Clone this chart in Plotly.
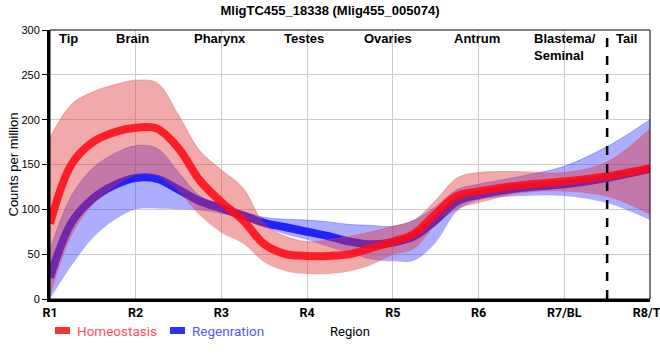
import plotly.graph_objects as go

# ---- data ----
pos = [1, 1.25, 1.5, 1.75, 2, 2.25, 2.5, 2.75, 3, 3.25, 3.5, 3.75, 4, 4.25,
       4.5, 4.75, 5, 5.25, 5.5, 5.75, 6, 6.5, 7, 7.5, 8]

homeo_mean = [84, 150, 175, 186, 191, 190, 168, 132, 108, 88, 61, 50, 48, 48,
              50, 57, 64, 73, 95, 115, 120, 127, 131, 137, 146]
homeo_upper = [180, 217, 231, 239, 244, 241, 205, 165, 144, 124, 84, 70, 64, 66,
               70, 75, 81, 88, 110, 135, 141, 142, 141, 153, 190]
homeo_lower = [2, 70, 105, 125, 138, 137, 120, 93, 74, 62, 41, 31, 28, 28,
               31, 38, 49, 56, 82, 100, 107, 118, 120, 114, 94]

regen_mean = [24, 85, 112, 127, 135, 134, 122, 109, 101, 93, 85, 80, 75, 70,
              64, 61, 63, 70, 88, 109, 116, 124, 128, 135, 145]
regen_upper = [55, 115, 146, 162, 171, 168, 141, 115, 106, 98, 91, 89, 88, 86,
               83, 82, 81, 88, 103, 122, 128, 137, 148, 170, 200]
regen_lower = [0, 37, 68, 88, 100, 101, 100, 99, 95, 90, 80, 72, 66, 58,
               51, 44, 42, 43, 63, 98, 110, 115, 115, 107, 88]

tick_vals = [1, 2, 3, 4, 5, 6, 7, 8]
tick_text = ["R1", "R2", "R3", "R4", "R5", "R6", "R7/BL", "R8/TL"]

region_names = ["Tip", "Brain", "Pharynx", "Testes", "Ovaries", "Antrum",
                "Blastema/<br>Seminal", "Tail"]
region_pos = [1.22, 1.965, 2.98, 3.96, 4.94, 5.98, 7.01, 7.73]

series_names = ["Homeostasis", "Regenration"]
title = "MligTC455_18338 (Mlig455_005074)"

# ---- figure ----
fig = go.Figure()

# regeneration band + line
fig.add_trace(go.Scatter(x=pos, y=regen_lower, mode="lines", line=dict(width=0, shape="spline"),
                         showlegend=False, hoverinfo="skip"))
fig.add_trace(go.Scatter(x=pos, y=regen_upper, mode="lines", line=dict(width=0.8, shape="spline",
                         color="rgba(60,60,255,0.5)"),
                         fill="tonexty", fillcolor="rgba(40,40,255,0.38)",
                         showlegend=False, hoverinfo="skip"))
fig.add_trace(go.Scatter(x=pos, y=regen_mean, mode="lines",
                         line=dict(width=8, shape="spline", color="#2222ff"),
                         name=series_names[1], showlegend=False))

# homeostasis band + line
fig.add_trace(go.Scatter(x=pos, y=homeo_lower, mode="lines", line=dict(width=0, shape="spline"),
                         showlegend=False, hoverinfo="skip"))
fig.add_trace(go.Scatter(x=pos, y=homeo_upper, mode="lines", line=dict(width=0.8, shape="spline",
                         color="rgba(230,80,80,0.5)"),
                         fill="tonexty", fillcolor="rgba(225,50,50,0.42)",
                         showlegend=False, hoverinfo="skip"))
fig.add_trace(go.Scatter(x=pos, y=homeo_mean, mode="lines",
                         line=dict(width=8, shape="spline", color="rgba(255,10,20,0.88)"),
                         name=series_names[0], showlegend=False))

# dashed separator between R7 and R8
fig.add_shape(type="line", x0=7.5, x1=7.5, y0=0, y1=300, xref="x", yref="y",
              line=dict(color="black", width=2.5, dash="dash"))
# thin frame
fig.add_shape(type="rect", x0=0, x1=1, y0=0, y1=1, xref="paper", yref="paper",
              line=dict(color="black", width=1))

for name, p in zip(region_names, region_pos):
    fig.add_annotation(x=p, y=1, xref="x", yref="paper", text="<b>%s</b>" % name,
                       showarrow=False, yanchor="top", xanchor="center", yshift=1,
                       font=dict(family="Arial", size=13, color="black"),
                       align="left")

# axis titles
PW, PH = 600.0, 269.0
fig.add_annotation(x=(13 - 50) / PW, y=0.5, xref="paper", yref="paper",
                   text="Counts per million", textangle=-90, showarrow=False,
                   xanchor="center", yanchor="middle",
                   font=dict(family="Arial", size=13, color="black"))
fig.add_annotation(x=(350 - 50) / PW, y=(299 - 331) / PH, xref="paper", yref="paper",
                   text="Region", showarrow=False, xanchor="center", yanchor="middle",
                   font=dict(family="Roboto", size=13, color="black"))

# manual legend
legend_items = [(series_names[0], "#ff3030", "#ff5060", 55),
                (series_names[1], "#3030ff", "#5a5aff", 170)]
for label, sym_col, txt_col, px in legend_items:
    fig.add_shape(type="rect", xref="paper", yref="paper",
                  x0=(px - 50) / PW, x1=(px + 15 - 50) / PW,
                  y0=(299 - 334) / PH, y1=(299 - 327) / PH,
                  line=dict(width=0), fillcolor=sym_col)
    fig.add_annotation(x=(px + 20 - 50) / PW, y=(299 - 330.5) / PH, xref="paper", yref="paper",
                       text=label, showarrow=False, xanchor="left", yanchor="middle",
                       font=dict(family="Roboto", size=13.5, color=txt_col))

fig.update_layout(
    width=660, height=360,
    margin=dict(l=50, r=10, t=30, b=61, autoexpand=False),
    paper_bgcolor="white", plot_bgcolor="white",
    title=dict(text="<b>%s</b>" % title, x=0.5, xanchor="center", y=0.985, yanchor="top",
               font=dict(family="Arial", size=13, color="black")),
    showlegend=False,
    xaxis=dict(range=[1, 8], tickvals=tick_vals, ticktext=tick_text, automargin=False,
               showgrid=True, gridcolor="#cccccc", gridwidth=1, zeroline=False,
               showline=True, linecolor="black", linewidth=3,
               tickfont=dict(family="Roboto", size=12.5, color="black", weight="bold"),
               ticklabeloverflow="allow", ticks=""),
    yaxis=dict(range=[0, 300], tickvals=[0, 50, 100, 150, 200, 250, 300], automargin=False,
               showgrid=True, gridcolor="#cccccc", gridwidth=1, zeroline=False,
               showline=True, linecolor="black", linewidth=3,
               ticks="outside", ticklen=5, tickcolor="black", tickwidth=1,
               tickfont=dict(family="Arial", size=11, color="black")),
)

fig.write_html("out.html", config={"displayModeBar": False},
               post_script="document.body.style.margin='0';document.body.style.overflow='hidden';")
